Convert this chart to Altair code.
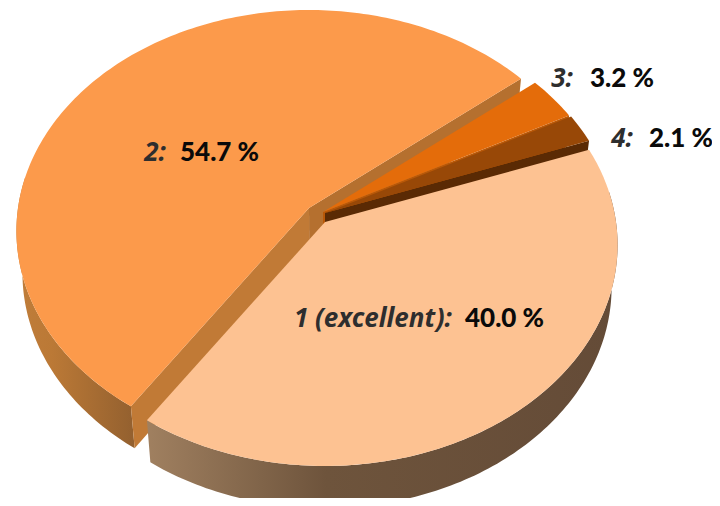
import math
import altair as alt

# --- data ---
categories = ["1 (excellent)", "2", "3", "4"]
percent = [40.0, 54.7, 3.2, 2.1]
value_text = ["40.0 %", "54.7 %", "3.2 %", "2.1 %"]

# --- styling ---
top_colors = ["#FDC292", "#FC9A4B", "#E46C0A", "#984807"]
edge_start_colors = [None, "#C17A36", None, None]
edge_end_colors = [None, "#B5702F", "#B85808", "#5A2A04"]
rim_gradients = {
    0: [("#A08060", 0), ("#6E543C", 0.38), ("#644B37", 1)],
    1: [("#C07D3A", 0), ("#BB7936", 0.3), ("#93602F", 1)],
}
apexes = [(325, 222), (309, 208), (323, 212), (325, 213)]  # exploded slice centres (page px)
START_DEG = 20.0
A, B, K = 291.0, 218.6, 0.104   # ellipse semi axes and perspective
DEPTH = 42.0
SHRINK = 0.98
VANISH_X = 318.0
M = 8  # page margin
label_pos = [  # name right edge, value left edge, centre y (page px)
    (452, 465, 319),
    (166, 180, 153),
    (573, 590, 79),
    (633, 649, 139),
]
NAME_FONT = "Noto Sans"
NAME_FS = 26
VALUE_FONT = "Lato"
VALUE_FS = 26


def on_top(i, deg):
    ax, ay = apexes[i]
    u, v = math.cos(math.radians(deg)), -math.sin(math.radians(deg))
    w = 1 / (1 - K * v)
    return ax + A * u * w - M, ay + B * v * w - M


def below(p):
    vx = VANISH_X - M
    return vx + (p[0] - vx) * SHRINK, p[1] + DEPTH


def apex(i):
    return apexes[i][0] - M, apexes[i][1] - M


def arc(i, a0, a1):
    n = max(2, int(abs(a1 - a0)) + 2)
    return [on_top(i, a0 + (a1 - a0) * t / (n - 1)) for t in range(n)]


PROJ = alt.Projection(type="identity", scale=1, translate=[0, 0])


def shape(points, fill):
    ring = [[round(x, 2), round(y, 2)] for x, y in points]
    ring.append(ring[0])
    fc = {
        "type": "FeatureCollection",
        "features": [{"type": "Feature", "properties": {},
                      "geometry": {"type": "Polygon", "coordinates": [ring]}}],
    }
    data = alt.Data(values=fc, format=alt.DataFormat(type="json", property="features"))
    return alt.Chart(data).mark_geoshape(fill=fill, stroke=None).project(**PROJ.to_dict())


def gradient(stops):
    return alt.LinearGradient(
        gradient="linear", x1=0, x2=1, y1=0, y2=0,
        stops=[alt.GradientStop(color=c, offset=o) for c, o in stops],
    )


# slice angular ranges, clockwise from the start angle
ranges = []
cur = START_DEG
for p in percent:
    nxt = cur - p * 3.6
    ranges.append((cur, nxt))
    cur = nxt


def slice_layers(i):
    a0, a1 = ranges[i]
    out = []
    top_arc = arc(i, a0, a1)
    # outer rim: only the part facing the viewer
    if i in rim_gradients:
        lo, hi = max(a1, -180.0 - 8), min(a0, 8.0)
        rim = arc(i, lo, hi)
        out.append(shape(rim + [below(p) for p in reversed(rim)], gradient(rim_gradients[i])))
    c = apex(i)
    if edge_end_colors[i]:
        e = top_arc[-1]
        out.append(shape([c, e, below(e), below(c)], edge_end_colors[i]))
    if edge_start_colors[i]:
        e = top_arc[0]
        out.append(shape([c, e, below(e), below(c)], edge_start_colors[i]))
    out.append(shape([c] + top_arc, top_colors[i]))
    return out


layers = []
for idx in [1, 2, 3, 0]:  # back to front
    layers += slice_layers(idx)

for i, cat in enumerate(categories):
    right, left, cy = label_pos[i]
    src = alt.Data(values=[{"name": cat + ":", "val": value_text[i]}])
    layers.append(
        alt.Chart(src).mark_text(
            font=NAME_FONT, fontSize=NAME_FS, fontWeight="bold", fontStyle="italic",
            align="right", baseline="middle", color="#2E2E2E",
        ).encode(text="name:N", x=alt.value(right - M), y=alt.value(cy - M))
    )
    layers.append(
        alt.Chart(src).mark_text(
            font=VALUE_FONT, fontSize=VALUE_FS, fontWeight=900,
            align="left", baseline="middle", color="#0A0A0A",
        ).encode(text="val:N", x=alt.value(left - M), y=alt.value(cy - M))
    )

chart = alt.layer(*layers).properties(
    width=704, height=490, padding=0, autosize=alt.AutoSizeParams(type="none")
).configure_view(stroke=None)

chart.save("out.html", embed_options={"renderer": "svg", "actions": False})
